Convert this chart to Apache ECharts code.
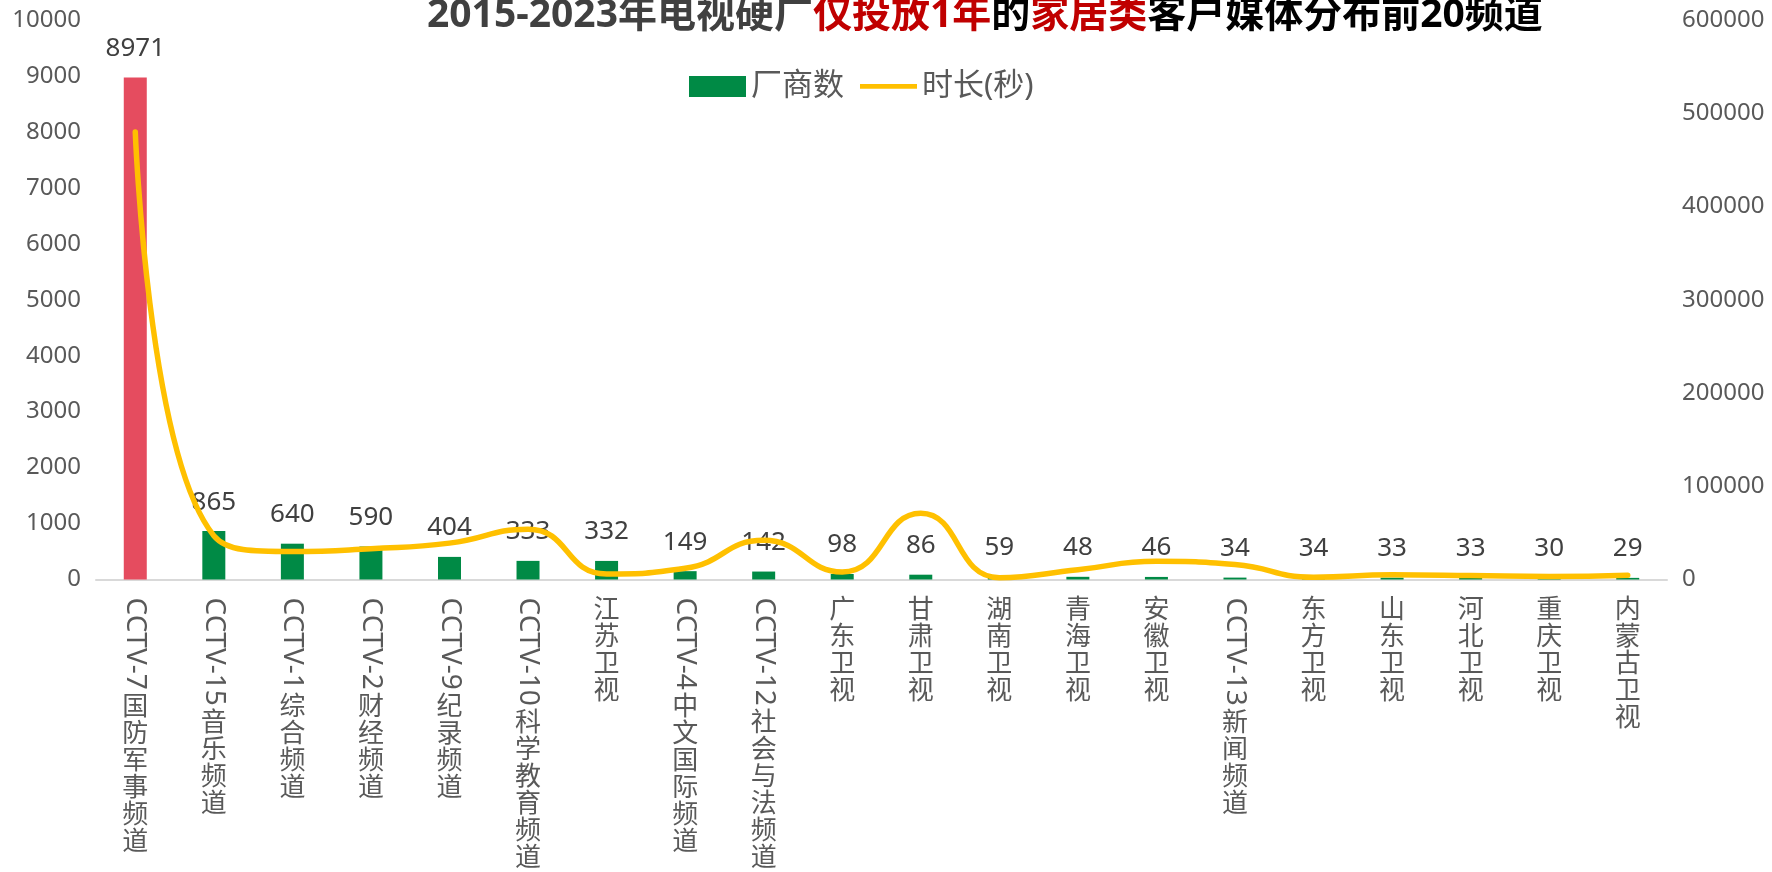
<!DOCTYPE html>
<html>
<head>
<meta charset="utf-8">
<script src="https://cdn.jsdelivr.net/npm/echarts@6/dist/echarts.min.js"></script>
<style>
  html, body { margin: 0; padding: 0; background: #fff; }
  #chart { width: 1772px; height: 872px; }
</style>
</head>
<body>
<div id="chart"></div>
<script>
const channels = [
  "CCTV-7国防军事频道", "CCTV-15音乐频道", "CCTV-1综合频道", "CCTV-2财经频道",
  "CCTV-9纪录频道", "CCTV-10科学教育频道", "江苏卫视", "CCTV-4中文国际频道",
  "CCTV-12社会与法频道", "广东卫视", "甘肃卫视", "湖南卫视", "青海卫视", "安徽卫视",
  "CCTV-13新闻频道", "东方卫视", "山东卫视", "河北卫视", "重庆卫视", "内蒙古卫视",
];
const vendorCounts = [8971, 865, 640, 590, 404, 333, 332, 149, 142, 98, 86, 59, 48, 46, 34, 34, 33, 33, 30, 29];
const durations = [480000, 47000, 30000, 33000, 39000, 54000, 6000, 12000, 42000, 8000, 71000, 2000, 10500, 19500, 16000, 2500, 5000, 4300, 3200, 4500];

const FONT = "'Noto Sans', 'Noto Sans CJK SC', sans-serif";
const LATIN_SIZE = 28;
const CJK_SIZE = 26;
const LABEL_MARGIN = 18;

// latin prefix is drawn rotated, the chinese part stacked upright under it
const latinPart = (s) => (s.match(/^[A-Za-z0-9\-]+/) || [""])[0];
const cjkPart = (s) => s.slice(latinPart(s).length);

const ctx = document.createElement("canvas").getContext("2d");
ctx.font = `${LATIN_SIZE}px ${FONT}`;
const latinWidth = (s) => {
  const p = latinPart(s);
  return p ? Math.round(ctx.measureText(p).width + 5) : 0;
};

const spacers = {};
channels.forEach((c) => {
  const h = latinWidth(c);
  if (h) spacers["sp" + h] = { height: h, lineHeight: h };
});

const plain = (v) => String(v);

const chart = echarts.init(document.getElementById("chart"));

chart.setOption({
  animation: false,
  title: {
    text: "{g|2015-2023年电视硬广}{r|仅投放1年}{k|的}{r|家居类}{k|客户媒体分布前20频道}",
    left: 422,
    top: -9,
    textStyle: {
      rich: {
        g: { color: "#404040", fontSize: 39, fontWeight: "bold", fontFamily: FONT },
        r: { color: "#C00000", fontSize: 39, fontWeight: "bold", fontFamily: FONT },
        k: { color: "#000000", fontSize: 39, fontWeight: "bold", fontFamily: FONT },
      },
    },
  },
  legend: {
    left: 684,
    top: 66,
    itemWidth: 57,
    itemHeight: 21,
    itemGap: 16,
    textStyle: { color: "#595959", fontSize: 31, fontFamily: FONT },
    data: [
      { name: "厂商数", icon: "rect" },
      { name: "时长(秒)", icon: "path://M0,0H60V5H0Z" },
    ],
  },
  grid: { left: 96, right: 105, top: 20, bottom: 290 },
  xAxis: [
    {
      type: "category",
      data: channels,
      position: "bottom",
      axisLine: { lineStyle: { color: "#D9D9D9", width: 2 } },
      axisTick: { show: false },
      axisLabel: {
        interval: 0,
        rotate: -90,
        margin: LABEL_MARGIN,
        color: "#595959",
        fontSize: LATIN_SIZE,
        fontFamily: FONT,
        formatter: (v) => latinPart(v),
      },
    },
    {
      type: "category",
      data: channels,
      position: "bottom",
      axisLine: { show: false },
      axisTick: { show: false },
      axisLabel: {
        interval: 0,
        margin: LABEL_MARGIN,
        formatter: (v) => {
          const chars = cjkPart(v).split("").map((c) => `{c|${c}}`);
          const h = latinWidth(v);
          return (h ? `{sp${h}|}\n` : "") + chars.join("\n");
        },
        rich: Object.assign(
          { c: { color: "#595959", fontSize: CJK_SIZE, lineHeight: 27, fontFamily: FONT } },
          spacers
        ),
      },
    },
  ],
  yAxis: [
    {
      type: "value",
      min: 0,
      max: 10000,
      interval: 1000,
      splitLine: { show: false },
      axisLabel: { color: "#595959", fontSize: 24, fontFamily: FONT, margin: 15, formatter: plain },
    },
    {
      type: "value",
      min: 0,
      max: 600000,
      interval: 100000,
      position: "right",
      splitLine: { show: false },
      axisLabel: { color: "#595959", fontSize: 24, fontFamily: FONT, margin: 15, formatter: plain },
    },
  ],
  series: [
    {
      name: "厂商数",
      type: "bar",
      barWidth: 23,
      itemStyle: { color: "#008A45" },
      data: vendorCounts.map((v, i) =>
        i === 0 ? { value: v, itemStyle: { color: "#E54C5F" } } : v
      ),
      label: {
        show: true,
        position: "top",
        distance: 16,
        color: "#404040",
        fontSize: 26,
        fontFamily: FONT,
      },
    },
    {
      name: "时长(秒)",
      type: "line",
      yAxisIndex: 1,
      data: durations,
      smooth: 0.5,
      symbol: "none",
      lineStyle: { color: "#FFC000", width: 5.5, cap: "round" },
      itemStyle: { color: "#FFC000" },
      z: 3,
    },
  ],
});
</script>
</body>
</html>
